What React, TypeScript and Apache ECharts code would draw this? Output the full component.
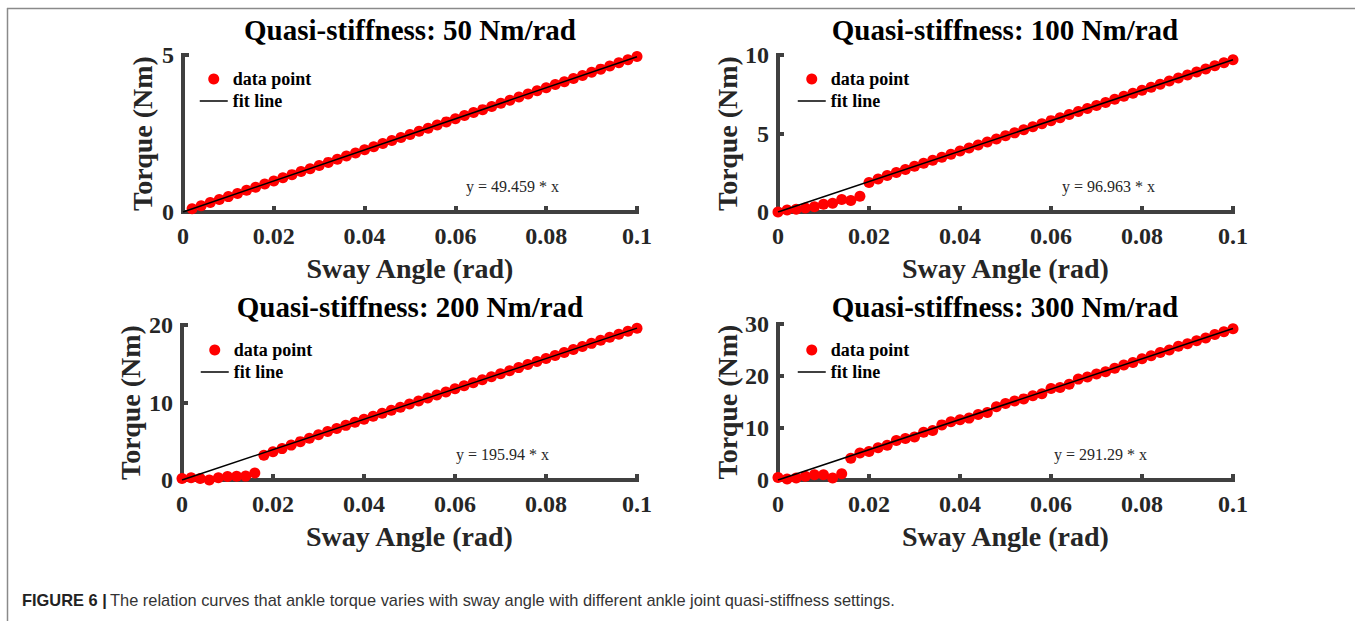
import React, { useEffect, useRef } from "react";
import * as echarts from "echarts";

// Sway angle samples (rad)
const angles = [
  0, 0.002, 0.004, 0.006, 0.008, 0.01, 0.012, 0.014, 0.016, 0.018,
  0.02, 0.022, 0.024, 0.026, 0.028, 0.03, 0.032, 0.034, 0.036, 0.038,
  0.04, 0.042, 0.044, 0.046, 0.048, 0.05, 0.052, 0.054, 0.056, 0.058,
  0.06, 0.062, 0.064, 0.066, 0.068, 0.07, 0.072, 0.074, 0.076, 0.078,
  0.08, 0.082, 0.084, 0.086, 0.088, 0.09, 0.092, 0.094, 0.096, 0.098, 0.1,
];

// Torque (Nm) per quasi-stiffness setting (50 setting starts at 0.002 rad)
const torque50 = [
  0.1, 0.2, 0.3, 0.4, 0.49, 0.59, 0.69, 0.79, 0.89,
  0.99, 1.09, 1.19, 1.29, 1.38, 1.48, 1.58, 1.68, 1.78, 1.88,
  1.98, 2.08, 2.18, 2.28, 2.37, 2.47, 2.57, 2.67, 2.77, 2.87,
  2.97, 3.07, 3.17, 3.26, 3.36, 3.46, 3.56, 3.66, 3.76, 3.86,
  3.96, 4.06, 4.15, 4.25, 4.35, 4.45, 4.55, 4.65, 4.75, 4.85, 4.95,
];
const torque100 = [
  0, 0.13, 0.17, 0.25, 0.33, 0.5, 0.56, 0.79, 0.73, 1.0,
  1.88, 2.1, 2.33, 2.52, 2.71, 2.91, 3.1, 3.3, 3.49, 3.68,
  3.88, 4.07, 4.27, 4.46, 4.65, 4.85, 5.04, 5.24, 5.43, 5.62,
  5.82, 6.01, 6.21, 6.4, 6.59, 6.79, 6.98, 7.18, 7.37, 7.56,
  7.76, 7.95, 8.14, 8.34, 8.53, 8.73, 8.92, 9.11, 9.31, 9.5, 9.7,
];
const torque200 = [
  0.2, 0.3, 0.2, 0.0, 0.3, 0.45, 0.47, 0.5, 0.9, 3.2,
  3.65, 4.05, 4.5, 4.95, 5.4, 5.85, 6.25, 6.65, 7.05, 7.45,
  7.84, 8.23, 8.62, 9.01, 9.4, 9.8, 10.19, 10.58, 10.97, 11.36,
  11.76, 12.15, 12.54, 12.93, 13.32, 13.72, 14.11, 14.5, 14.89, 15.28,
  15.68, 16.07, 16.46, 16.85, 17.24, 17.63, 18.03, 18.42, 18.81, 19.2, 19.59,
];
const torque300 = [
  0.5, 0.2, 0.4, 0.7, 1.0, 1.0, 0.4, 1.2, 4.2, 5.2,
  5.5, 6.2, 6.7, 7.6, 8.0, 8.25, 9.2, 9.5, 10.6, 11.2,
  11.6, 11.9, 12.6, 13.0, 14.1, 14.7, 15.2, 15.6, 16.2, 16.6,
  17.6, 17.8, 18.4, 19.4, 19.8, 20.4, 20.8, 21.5, 22.1, 22.6,
  23.3, 23.9, 24.5, 25.0, 25.7, 26.2, 26.8, 27.3, 28.0, 28.5, 29.1,
];

const titles = [
  "Quasi-stiffness: 50 Nm/rad",
  "Quasi-stiffness: 100 Nm/rad",
  "Quasi-stiffness: 200 Nm/rad",
  "Quasi-stiffness: 300 Nm/rad",
];
const fitLabels = ["y = 49.459 * x", "y = 96.963 * x", "y = 195.94 * x", "y = 291.29 * x"];
const fitEnds = [4.9459, 9.6963, 19.594, 29.129];
const yMax = [5, 10, 20, 30];
const yStep = [5, 5, 10, 10];
const xTicks = [0, 0.02, 0.04, 0.06, 0.08, 0.1];

const SERIF = "Liberation Serif";
const AXIS_COLOR = "#404040";
const TEXT_COLOR = "#262626";

export default function App() {
  const ref = useRef<HTMLDivElement>(null);

  useEffect(() => {
    if (!ref.current) return;
    const chart = echarts.init(ref.current, undefined, { renderer: "svg" });

    const grids = [
      { left: 183, top: 55, width: 454, height: 157 },
      { left: 778, top: 55, width: 455, height: 157 },
      { left: 182, top: 325, width: 455, height: 155 },
      { left: 778, top: 324, width: 455, height: 156 },
    ];
    const yNameGaps = [27, 36, 38, 36];
    const legendPos = [
      { left: 199, top: 70 },
      { left: 797, top: 70 },
      { left: 200, top: 341 },
      { left: 797, top: 341 },
    ];
    const annPos = [
      { x: 466, y: 186 },
      { x: 1062, y: 186 },
      { x: 456, y: 454 },
      { x: 1054, y: 454 },
    ];
    const titlePos = [
      { x: 410, y: 30 },
      { x: 1005, y: 30 },
      { x: 410, y: 307 },
      { x: 1005, y: 307 },
    ];

    const torques = [torque50, torque100, torque200, torque300];
    const xsFor = [angles.slice(1), angles, angles, angles];

    const xAxis = grids.map((_, i) => ({
      type: "value",
      gridIndex: i,
      min: 0,
      max: 0.1,
      interval: 0.02,
      name: "Sway Angle (rad)",
      nameLocation: "middle",
      nameGap: 42,
      nameTextStyle: { fontFamily: SERIF, fontWeight: "bold", fontSize: 28, color: TEXT_COLOR },
      splitLine: { show: false },
      axisLine: { show: true, onZero: false, lineStyle: { color: AXIS_COLOR, width: 4, cap: "square" } },
      axisTick: { show: true, inside: true, length: 6, lineStyle: { color: AXIS_COLOR, width: 4 } },
      axisLabel: {
        margin: 12,
        fontFamily: SERIF,
        fontWeight: "bold",
        fontSize: 24,
        color: TEXT_COLOR,
        formatter: (v: number) => {
          const t = xTicks.find((k) => Math.abs(k - v) < 1e-9);
          return String(t !== undefined ? t : Number(v.toFixed(3)));
        },
      },
    }));

    const yAxis = grids.map((_, i) => ({
      type: "value",
      gridIndex: i,
      min: 0,
      max: yMax[i],
      interval: yStep[i],
      name: "Torque (Nm)",
      nameLocation: "middle",
      nameGap: yNameGaps[i],
      nameTextStyle: { fontFamily: SERIF, fontWeight: "bold", fontSize: 28, color: TEXT_COLOR },
      splitLine: { show: false },
      axisLine: { show: true, onZero: false, lineStyle: { color: AXIS_COLOR, width: 4, cap: "square" } },
      axisTick: { show: true, inside: true, length: 6, lineStyle: { color: AXIS_COLOR, width: 4 } },
      axisLabel: {
        margin: 9,
        fontFamily: SERIF,
        fontWeight: "bold",
        fontSize: 24,
        color: TEXT_COLOR,
      },
    }));

    const series: any[] = [];
    torques.forEach((ys, i) => {
      const xs = xsFor[i];
      series.push({
        type: "scatter",
        name: "data point",
        xAxisIndex: i,
        yAxisIndex: i,
        symbol: "circle",
        symbolSize: 11,
        itemStyle: { color: "#ff0000", opacity: 1 },
        z: 2,
        data: ys.map((y, k) => [xs[k], y]),
      });
      series.push({
        type: "line",
        name: "fit line",
        xAxisIndex: i,
        yAxisIndex: i,
        symbol: "none",
        showSymbol: false,
        lineStyle: { color: "#000000", width: 1.5 },
        itemStyle: { color: "#000000" },
        z: 3,
        data: [
          [0, 0],
          [0.1, fitEnds[i]],
        ],
      });
    });

    const legend = legendPos.map((p) => ({
      orient: "vertical",
      left: p.left,
      top: p.top,
      itemWidth: 28,
      itemHeight: 11,
      itemGap: 4,
      selectedMode: false,
      padding: 0,
      textStyle: { fontFamily: SERIF, fontWeight: "bold", fontSize: 18, color: "#000" },
      data: [
        { name: "data point", itemStyle: { opacity: 1 } },
        { name: "fit line", itemStyle: { opacity: 0 }, lineStyle: { opacity: 1, width: 1.5, color: "#000" } },
      ],
    }));

    const graphic: any[] = [];
    titles.forEach((t, i) => {
      graphic.push({
        type: "text",
        x: titlePos[i].x,
        y: titlePos[i].y,
        style: {
          text: t,
          fontFamily: SERIF,
          fontWeight: "bold",
          fontSize: 29,
          fill: "#000",
          align: "center",
          verticalAlign: "middle",
        },
      });
      graphic.push({
        type: "text",
        x: annPos[i].x,
        y: annPos[i].y,
        style: {
          text: fitLabels[i],
          fontFamily: SERIF,
          fontSize: 16,
          fill: TEXT_COLOR,
          align: "left",
          verticalAlign: "middle",
        },
      });
    });
    graphic.push({
      type: "line",
      shape: { x1: 7, y1: 8.5, x2: 1355, y2: 8.5 },
      style: { stroke: "#8a8a8a", lineWidth: 1.5 },
    });
    graphic.push({
      type: "line",
      shape: { x1: 7.5, y1: 8, x2: 7.5, y2: 621 },
      style: { stroke: "#8a8a8a", lineWidth: 1.5 },
    });
    graphic.push({
      type: "text",
      x: 22,
      y: 600,
      style: {
        text: "{b|FIGURE 6 |} {n|The relation curves that ankle torque varies with sway angle with different ankle joint quasi-stiffness settings.}",
        verticalAlign: "middle",
        rich: {
          b: { fontFamily: "Liberation Sans", fontWeight: "bold", fontSize: 16.4, fill: "#222" },
          n: { fontFamily: "Liberation Sans", fontSize: 16.4, fill: "#333" },
        },
      },
    });

    chart.setOption({
      animation: false,
      backgroundColor: "#ffffff",
      grid: grids,
      xAxis,
      yAxis,
      legend,
      series,
      graphic,
    });

    return () => chart.dispose();
  }, []);

  return (
    <div
      ref={ref}
      style={{ position: "absolute", left: 0, top: 0, width: 1355, height: 621 }}
    />
  );
}
